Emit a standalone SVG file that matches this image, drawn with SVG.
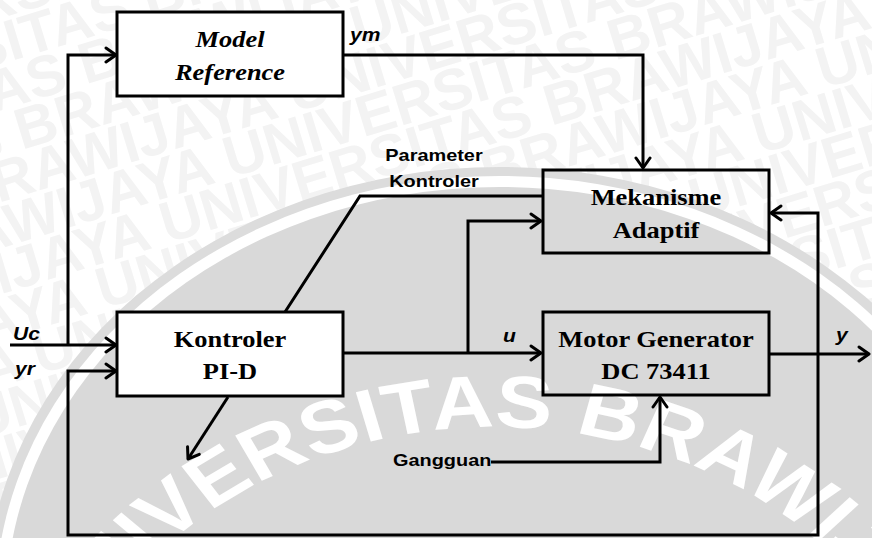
<svg xmlns="http://www.w3.org/2000/svg" width="872" height="538" viewBox="0 0 872 538">
  <style>
    .wm { font-family: "Liberation Sans", Arial, sans-serif; font-weight: bold; font-size: 58px; fill: #f3f3f3; }
    .seal { font-family: "Liberation Sans", Arial, sans-serif; font-weight: bold; font-size: 74px; fill: #ffffff; }
    .box { stroke: #000; stroke-width: 3; }
    .ln { fill: none; stroke: #000; stroke-width: 3; }
    .ttl { font-family: "Liberation Serif", "Times New Roman", serif; font-weight: bold; font-size: 23px; text-anchor: middle; fill: #000; }
    .it { font-style: italic; }
    .lbl { font-family: "Liberation Sans", Arial, sans-serif; font-weight: bold; font-size: 17px; fill: #000; }
    .var { font-family: "Liberation Sans", Arial, sans-serif; font-weight: bold; font-style: italic; font-size: 18px; fill: #000; }
  </style>
  <defs>
    <marker id="arr" viewBox="-13 -9 15 18" refX="0" refY="0" markerWidth="15" markerHeight="18" markerUnits="userSpaceOnUse" orient="auto">
      <path d="M-10,-7 L0,0 L-10,7" fill="none" stroke="#000" stroke-width="3" stroke-linecap="round" stroke-linejoin="round"/>
    </marker>
    <path id="sealArc" d="M27,830 A403,403 0 0 1 833,830"/>
  </defs>

  <!-- background -->
  <rect width="872" height="538" fill="#ffffff"/>

  <!-- tiled background lettering -->
  <g id="tiles" transform="rotate(-17 436 269)">
    <text class="wm" x="-620" y="-230">UNIVERSITAS BRAWIJAYA UNIVERSITAS BRAWIJAYA UNIVERSITAS BRAWIJAYA</text>
    <text class="wm" x="-700" y="-186">UNIVERSITAS BRAWIJAYA UNIVERSITAS BRAWIJAYA UNIVERSITAS BRAWIJAYA</text>
    <text class="wm" x="-780" y="-142">UNIVERSITAS BRAWIJAYA UNIVERSITAS BRAWIJAYA UNIVERSITAS BRAWIJAYA</text>
    <text class="wm" x="-860" y="-98">UNIVERSITAS BRAWIJAYA UNIVERSITAS BRAWIJAYA UNIVERSITAS BRAWIJAYA</text>
    <text class="wm" x="-167" y="-54">UNIVERSITAS BRAWIJAYA UNIVERSITAS BRAWIJAYA UNIVERSITAS BRAWIJAYA</text>
    <text class="wm" x="-247" y="-10">UNIVERSITAS BRAWIJAYA UNIVERSITAS BRAWIJAYA UNIVERSITAS BRAWIJAYA</text>
    <text class="wm" x="-327" y="34">UNIVERSITAS BRAWIJAYA UNIVERSITAS BRAWIJAYA UNIVERSITAS BRAWIJAYA</text>
    <text class="wm" x="-407" y="78">UNIVERSITAS BRAWIJAYA UNIVERSITAS BRAWIJAYA UNIVERSITAS BRAWIJAYA</text>
    <text class="wm" x="-487" y="122">UNIVERSITAS BRAWIJAYA UNIVERSITAS BRAWIJAYA UNIVERSITAS BRAWIJAYA</text>
    <text class="wm" x="-567" y="166">UNIVERSITAS BRAWIJAYA UNIVERSITAS BRAWIJAYA UNIVERSITAS BRAWIJAYA</text>
    <text class="wm" x="-647" y="210">UNIVERSITAS BRAWIJAYA UNIVERSITAS BRAWIJAYA UNIVERSITAS BRAWIJAYA</text>
    <text class="wm" x="-727" y="254">UNIVERSITAS BRAWIJAYA UNIVERSITAS BRAWIJAYA UNIVERSITAS BRAWIJAYA</text>
    <text class="wm" x="-807" y="298">UNIVERSITAS BRAWIJAYA UNIVERSITAS BRAWIJAYA UNIVERSITAS BRAWIJAYA</text>
    <text class="wm" x="-114" y="342">UNIVERSITAS BRAWIJAYA UNIVERSITAS BRAWIJAYA UNIVERSITAS BRAWIJAYA</text>
    <text class="wm" x="-194" y="386">UNIVERSITAS BRAWIJAYA UNIVERSITAS BRAWIJAYA UNIVERSITAS BRAWIJAYA</text>
    <text class="wm" x="-274" y="430">UNIVERSITAS BRAWIJAYA UNIVERSITAS BRAWIJAYA UNIVERSITAS BRAWIJAYA</text>
    <text class="wm" x="-354" y="474">UNIVERSITAS BRAWIJAYA UNIVERSITAS BRAWIJAYA UNIVERSITAS BRAWIJAYA</text>
    <text class="wm" x="-434" y="518">UNIVERSITAS BRAWIJAYA UNIVERSITAS BRAWIJAYA UNIVERSITAS BRAWIJAYA</text>
    <text class="wm" x="-514" y="562">UNIVERSITAS BRAWIJAYA UNIVERSITAS BRAWIJAYA UNIVERSITAS BRAWIJAYA</text>
    <text class="wm" x="-594" y="606">UNIVERSITAS BRAWIJAYA UNIVERSITAS BRAWIJAYA UNIVERSITAS BRAWIJAYA</text>
    <text class="wm" x="-674" y="650">UNIVERSITAS BRAWIJAYA UNIVERSITAS BRAWIJAYA UNIVERSITAS BRAWIJAYA</text>
    <text class="wm" x="-754" y="694">UNIVERSITAS BRAWIJAYA UNIVERSITAS BRAWIJAYA UNIVERSITAS BRAWIJAYA</text>
    <text class="wm" x="-834" y="738">UNIVERSITAS BRAWIJAYA UNIVERSITAS BRAWIJAYA UNIVERSITAS BRAWIJAYA</text>
  </g>

  <!-- seal: outer ring, white gap, inner disc, curved lettering -->
  <g id="seal">
    <ellipse cx="500" cy="607" rx="515" ry="440" fill="#dcdcdc"/>
    <ellipse cx="500" cy="607" rx="505" ry="431" fill="#ffffff"/>
    <ellipse cx="500" cy="607" rx="494" ry="420" fill="#d9d9d9"/>
    <g transform="scale(1.15,1)">
      <text class="seal"><textPath href="#sealArc" startOffset="190">UNIVERSITAS BRAWIJAYA</textPath></text>
    </g>
  </g>

  <!-- connectors -->
  <g id="connectors">
    <path class="ln" d="M10,345 H116" marker-end="url(#arr)"/>
    <path class="ln" d="M68,345 V55 H116" marker-end="url(#arr)"/>
    <path class="ln" d="M343,55 H643 V168" marker-end="url(#arr)"/>
    <path class="ln" d="M343,353 H541" marker-end="url(#arr)"/>
    <path class="ln" d="M468,353 V221 H541" marker-end="url(#arr)"/>
    <path class="ln" d="M285,312 L360,196 H543"/>
    <path class="ln" d="M228,397 L188,459" marker-end="url(#arr)"/>
    <path class="ln" d="M769,354 H869" marker-end="url(#arr)"/>
    <path class="ln" d="M818,354 V213 H771" marker-end="url(#arr)"/>
    <path class="ln" d="M818,354 V535 H68 V371 H116" marker-end="url(#arr)"/>
    <path class="ln" d="M491,462 H660 V397" marker-end="url(#arr)"/>
  </g>

  <!-- blocks -->
  <g id="model-reference">
    <rect class="box" x="117" y="12" width="226" height="84" fill="#ffffff"/>
    <text class="ttl it" transform="translate(230,47) scale(1.15,1)">Model</text>
    <text class="ttl it" transform="translate(230,80) scale(1.15,1)">Reference</text>
  </g>

  <g id="mekanisme-adaptif">
    <rect class="box" x="543" y="170" width="226" height="83" fill="none"/>
    <text class="ttl" transform="translate(656,205) scale(1.15,1)">Mekanisme</text>
    <text class="ttl" transform="translate(656,238) scale(1.15,1)">Adaptif</text>
  </g>

  <g id="kontroler">
    <rect class="box" x="117" y="312" width="226" height="84" fill="#ffffff"/>
    <text class="ttl" transform="translate(230,347) scale(1.15,1)">Kontroler</text>
    <text class="ttl" transform="translate(230,379) scale(1.15,1)">PI-D</text>
  </g>

  <g id="motor">
    <rect class="box" x="543" y="312" width="226" height="83" fill="none"/>
    <text class="ttl" transform="translate(656,347) scale(1.15,1)">Motor Generator</text>
    <text class="ttl" transform="translate(656,379) scale(1.15,1)">DC 73411</text>
  </g>

  <!-- signal labels -->
  <g id="labels">
    <text class="var" transform="translate(13,340) scale(1.17,1)">Uc</text>
    <text class="var" transform="translate(15,375) scale(1.17,1)">yr</text>
    <text class="var" transform="translate(350,41) scale(1.17,1)">ym</text>
    <text class="var" transform="translate(503,342) scale(1.17,1)">u</text>
    <text class="var" transform="translate(836,341) scale(1.17,1)">y</text>
    <text class="lbl" text-anchor="middle" transform="translate(434,161) scale(1.17,1)">Parameter</text>
    <text class="lbl" text-anchor="middle" transform="translate(434,187) scale(1.17,1)">Kontroler</text>
    <text class="lbl" transform="translate(393,466) scale(1.17,1)">Gangguan</text>
  </g>
</svg>
